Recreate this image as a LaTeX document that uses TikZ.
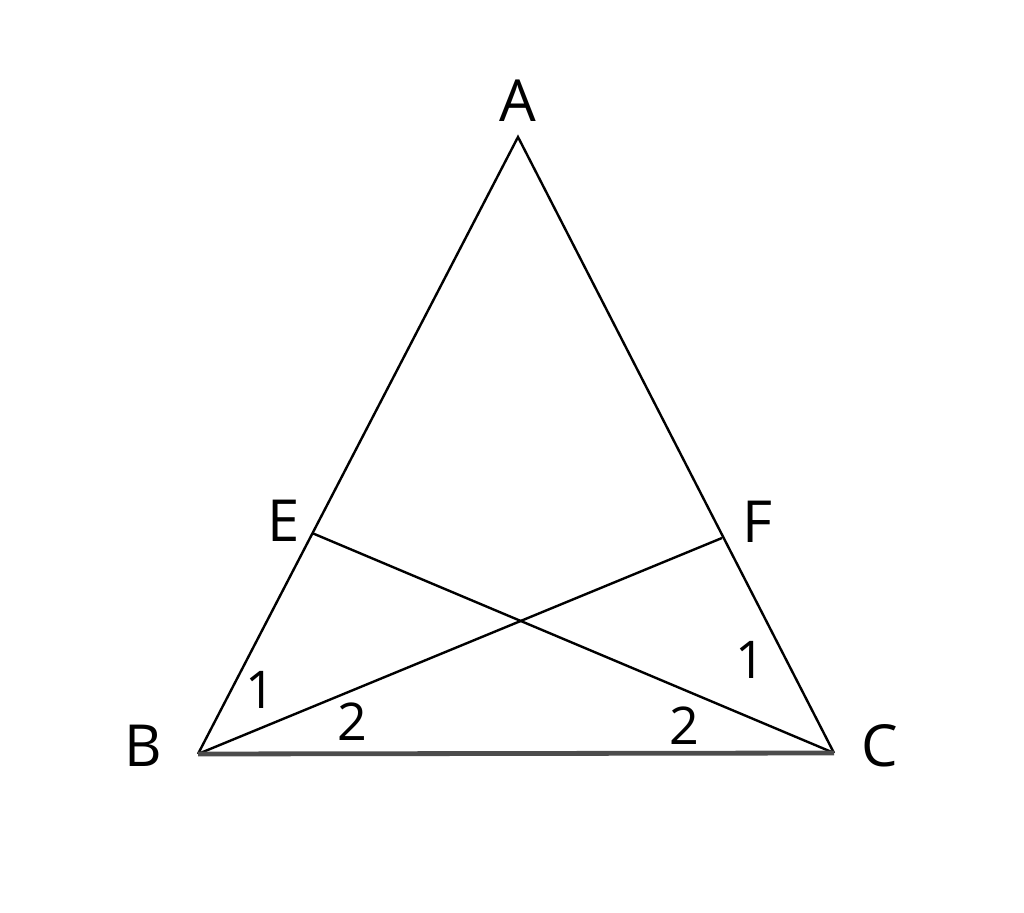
\documentclass[tikz,border=0pt]{standalone}
\usepackage{fontspec}
\setmainfont{Open Sans}
\usetikzlibrary{positioning}

\begin{document}
\begin{tikzpicture}[
    x=0.5pt, y=-0.5pt,
    side/.style={line width=1.2pt, black},
    base/.style={line width=2.4pt, black!70},
    vlabel/.style={font=\fontsize{29}{32}\selectfont, inner sep=0pt},
    alabel/.style={font=\fontsize{26}{29}\selectfont, inner sep=0pt}
]
    \useasboundingbox (0,0) rectangle (1024,913);
    % vertices
    \coordinate (A) at (518,137);
    \coordinate (B) at (198,754);
    \coordinate (C) at (834,753);
    \coordinate (E) at (312,533);
    \coordinate (F) at (722,538);

    \draw[side] (B) -- (A) -- (C);
    \draw[side] (E) -- (C);
    \draw[side] (B) -- (F);
    \draw[base] (B) -- (C);

    % labels
    \node[vlabel] (lA) at (518,101) {A};
    \node[vlabel] (lB) at (143,746) {B};
    \node[vlabel] (lC) at (880,746) {C};
    \node[vlabel] (lE) at (284,521) {E};
    \node[vlabel] (lF) at (757,522) {F};
    \node[alabel] (b1) at (260,690) {1};
    \node[alabel] (b2) at (352,722) {2};
    \node[alabel] (c2) at (684,726) {2};
    \node[alabel] (c1) at (750,660) {1};
\end{tikzpicture}
\end{document}
